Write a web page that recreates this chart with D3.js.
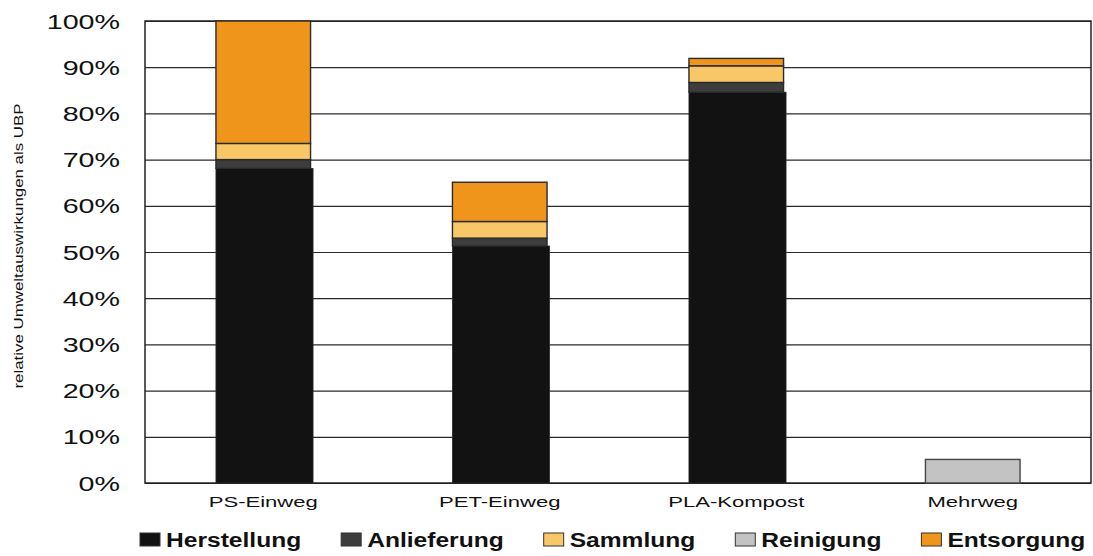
<!DOCTYPE html>
<html>
<head>
<meta charset="utf-8">
<script src="https://cdn.jsdelivr.net/npm/d3@7"></script>
<style>
  body { margin: 0; background: #fff; }
  svg { display: block; font-family: Arial, "Liberation Sans", sans-serif; }
</style>
</head>
<body>
<div id="chart"></div>
<script>
// categories and series values (percent of max)
var categories = ["PS-Einweg", "PET-Einweg", "PLA-Kompost", "Mehrweg"];
var seriesNames = ["Herstellung", "Anlieferung", "Sammlung", "Reinigung", "Entsorgung"];
var herstellung = [68.1, 51.3, 84.6, 0];
var anlieferung = [1.9, 1.7, 2.1, 0];
var sammlung = [3.5, 3.6, 3.6, 0];
var reinigung = [0, 0, 0, 5.1];
var entsorgung = [26.5, 8.5, 1.6, 0];
var yTicks = [0, 10, 20, 30, 40, 50, 60, 70, 80, 90, 100];
var yTitle = "relative Umweltauswirkungen als UBP";

var colors = {
    Herstellung: "#121212",
    Anlieferung: "#3d3d3d",
    Sammlung: "#f8c767",
    Reinigung: "#c3c3c3",
    Entsorgung: "#f0951c"
};

var width = 1093, height = 556;
var margin = { top: 21, right: 2, bottom: 73, left: 145 };
var plotW = width - margin.left - margin.right;
var plotH = height - margin.top - margin.bottom;

// horizontal stretch of all the text, as in the picture
function stretch(sel, k) {
    sel.each(function () {
        var w = this.getComputedTextLength();
        d3.select(this).attr("textLength", w * k).attr("lengthAdjust", "spacingAndGlyphs");
    });
}

var rows = categories.map(function (c, i) {
    return {
        cat: c,
        Herstellung: herstellung[i],
        Anlieferung: anlieferung[i],
        Sammlung: sammlung[i],
        Reinigung: reinigung[i],
        Entsorgung: entsorgung[i]
    };
});

var svg = d3.select("#chart").append("svg")
    .attr("width", width)
    .attr("height", height);

var g = svg.append("g").attr("transform", "translate(" + margin.left + "," + margin.top + ")");

var x = d3.scaleBand()
    .domain(categories)
    .range([0, plotW])
    .paddingInner(0.6)
    .paddingOuter(0.3);

var y = d3.scaleLinear().domain([0, 100]).range([plotH, 0]);

// grid lines
var grid = g.append("g")
    .call(d3.axisLeft(y).tickValues(yTicks).tickSize(-plotW).tickFormat(""));
grid.select(".domain").remove();
grid.selectAll("line").attr("stroke", "#2a2a2a").attr("stroke-width", 1.2);

// frame
g.append("rect")
    .attr("x", 0).attr("y", 0)
    .attr("width", plotW).attr("height", plotH)
    .attr("fill", "none")
    .attr("stroke", "#222")
    .attr("stroke-width", 1.5);

// y axis labels
var yAxis = g.append("g")
    .call(d3.axisLeft(y).tickValues(yTicks).tickSize(0).tickPadding(25).tickFormat(function (d) { return d + "%"; }));
yAxis.select(".domain").remove();
yAxis.selectAll("text")
    .attr("font-size", 19.5)
    .attr("fill", "#111")
    .attr("dy", "0.36em")
    .call(stretch, 1.47);

// stacked bars
var stack = d3.stack().keys(seriesNames);
var layers = stack(rows);

g.append("g").selectAll("g")
    .data(layers)
    .join("g")
    .attr("fill", function (d) { return colors[d.key]; })
    .each(function (layer) {
        d3.select(this).selectAll("rect")
            .data(layer.filter(function (d) { return d[1] - d[0] > 0; }))
            .join("rect")
            .attr("x", function (d) { return x(d.data.cat); })
            .attr("y", function (d) { return y(d[1]); })
            .attr("width", function () { return x.bandwidth() + (layer.key === "Herstellung" ? 2.5 : 0); })
            .attr("height", function (d) { return y(d[0]) - y(d[1]); })
            .attr("stroke", layer.key === "Reinigung" ? "#444" : "#2a2a2a")
            .attr("stroke-width", layer.key === "Herstellung" ? 0.8 : 1.4);
    });

// category labels
var xAxis = g.append("g")
    .attr("transform", "translate(0," + plotH + ")")
    .call(d3.axisBottom(x).tickSize(0).tickPadding(13));
xAxis.select(".domain").remove();
xAxis.selectAll("text")
    .attr("font-size", 15)
    .attr("fill", "#111")
    .call(stretch, 1.47);

// y axis title
svg.append("text")
    .attr("transform", "translate(23," + 246 + ") rotate(-90)")
    .attr("text-anchor", "middle")
    .attr("font-size", 13.5)
    .attr("fill", "#111")
    .text(yTitle)
    .call(stretch, 1.25);

// legend
var legend = svg.append("g").attr("transform", "translate(140," + 547 + ")");
var lx = 0;
seriesNames.forEach(function (name) {
    var item = legend.append("g").attr("transform", "translate(" + lx + ",0)");
    item.append("rect")
        .attr("x", 0).attr("y", -14)
        .attr("width", 20).attr("height", 13)
        .attr("fill", colors[name])
        .attr("stroke", "#333")
        .attr("stroke-width", 1);
    var t = item.append("text")
        .attr("x", 26)
        .attr("font-size", 19.5)
        .attr("font-weight", "bold")
        .attr("fill", "#111")
        .text(name)
        .call(stretch, 1.26);
    lx += 26 + (+t.attr("textLength")) + 40;
});
</script>
</body>
</html>
